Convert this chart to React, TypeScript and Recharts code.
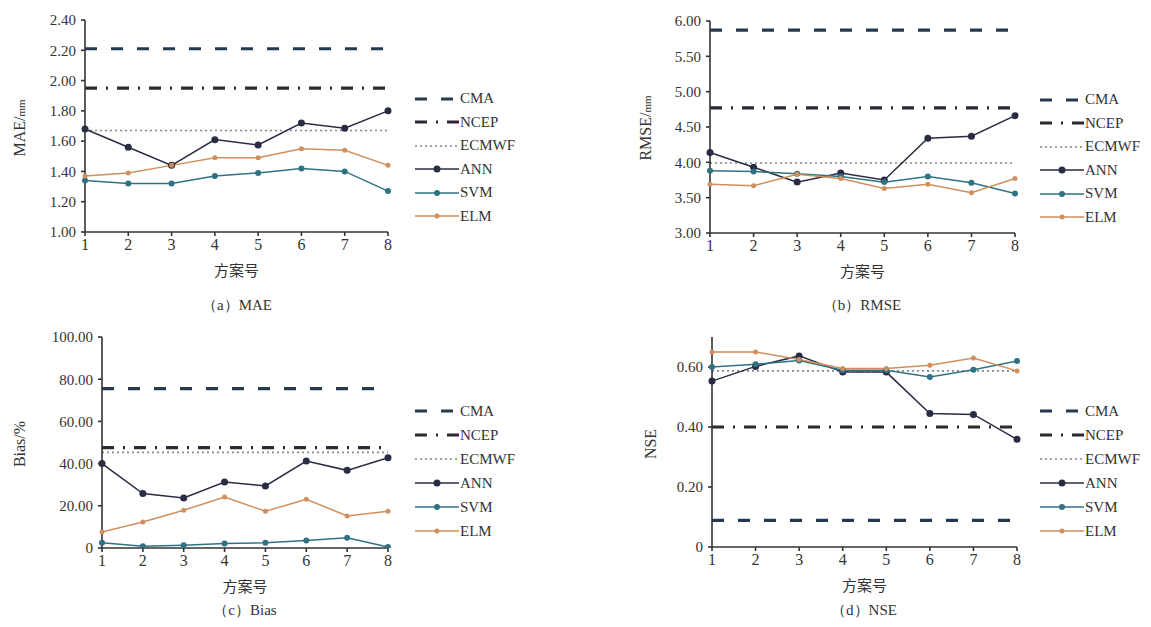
import React from 'react';
import { LineChart, Line, XAxis, YAxis, Legend } from 'recharts';

const schemes = [1, 2, 3, 4, 5, 6, 7, 8];

// (a) MAE
const maeANN = [1.68, 1.56, 1.44, 1.61, 1.575, 1.72, 1.685, 1.8];
const maeSVM = [1.34, 1.32, 1.32, 1.37, 1.39, 1.42, 1.4, 1.27];
const maeELM = [1.37, 1.39, 1.44, 1.49, 1.49, 1.55, 1.54, 1.44];
const maeRef = [2.21, 1.95, 1.67]; // CMA, NCEP, ECMWF
const maeTicks = [1.0, 1.2, 1.4, 1.6, 1.8, 2.0, 2.2, 2.4];

// (b) RMSE
const rmseANN = [4.14, 3.93, 3.72, 3.85, 3.75, 4.34, 4.37, 4.66];
const rmseSVM = [3.88, 3.87, 3.84, 3.8, 3.72, 3.8, 3.71, 3.56];
const rmseELM = [3.69, 3.67, 3.83, 3.77, 3.63, 3.69, 3.57, 3.77];
const rmseRef = [5.87, 4.77, 3.99];
const rmseTicks = [3.0, 3.5, 4.0, 4.5, 5.0, 5.5, 6.0];

// (c) Bias
const biasANN = [40.0, 25.8, 23.7, 31.3, 29.4, 41.2, 36.8, 42.8];
const biasSVM = [2.5, 0.8, 1.3, 2.1, 2.5, 3.6, 4.9, 0.5];
const biasELM = [7.6, 12.3, 17.9, 24.2, 17.4, 23.1, 15.2, 17.4];
const biasRef = [75.5, 47.6, 45.3];
const biasTicks = [0, 20, 40, 60, 80, 100];

// (d) NSE
const nseANN = [0.553, 0.602, 0.637, 0.583, 0.583, 0.445, 0.442, 0.359];
const nseSVM = [0.6, 0.609, 0.622, 0.589, 0.589, 0.567, 0.591, 0.62];
const nseELM = [0.65, 0.65, 0.625, 0.595, 0.595, 0.606, 0.63, 0.587];
const nseRef = [0.089, 0.4, 0.587];
const nseTicks = [0, 0.2, 0.4, 0.6];

const seriesNames = ['CMA', 'NCEP', 'ECMWF', 'ANN', 'SVM', 'ELM'];

const build = (ann: number[], svm: number[], elm: number[], ref: number[]) =>
  schemes.map((x, i) => ({
    x,
    CMA: ref[0],
    NCEP: ref[1],
    ECMWF: ref[2],
    ANN: ann[i],
    SVM: svm[i],
    ELM: elm[i],
  }));

const STYLE: Record<string, { color: string; width: number; dash?: string; r?: number }> = {
  CMA: { color: '#253a50', width: 3.2, dash: '12 14' },
  NCEP: { color: '#2a2a33', width: 3.2, dash: '12 9 2 9' },
  ECMWF: { color: '#80898a', width: 1.6, dash: '2 3' },
  ANN: { color: '#2a2c44', width: 1.5, r: 3.5 },
  SVM: { color: '#2f7282', width: 1.5, r: 3 },
  ELM: { color: '#d08f5c', width: 1.5, r: 2.5 },
};

const serif = '"Liberation Serif", "Times New Roman", serif';
const cjk = '"Noto Sans CJK SC", sans-serif';

const LegendContent = (rowH: number) => (props: any) => {
  const payload = [...(props.payload || [])].sort(
    (a: any, b: any) => seriesNames.indexOf(a.value) - seriesNames.indexOf(b.value)
  );
  return (
    <div style={{ fontFamily: serif, fontSize: 15, color: '#333' }}>
      {payload.map((p: any) => {
        const s = STYLE[p.value];
        return (
          <div key={p.value} style={{ display: 'flex', alignItems: 'center', height: rowH }}>
            <svg width={44} height={10} style={{ display: 'block' }}>
              <line x1={0} y1={5} x2={44} y2={5} stroke={s.color} strokeWidth={s.width} strokeDasharray={s.dash} />
              {s.r ? <circle cx={22} cy={5} r={s.r} fill={s.color} /> : null}
            </svg>
            <span style={{ marginLeft: 1 }}>{p.value}</span>
          </div>
        );
      })}
    </div>
  );
};

type PanelProps = {
  data: any[];
  left: number;
  top: number;
  width: number;
  height: number;
  margin: { top: number; right: number; bottom: number; left: number };
  yWidth: number;
  domain: [number, number];
  ticks: number[];
  fmt: (v: number) => string;
  legendLeft: number;
  legendTop: number;
  rowH: number;
};

const Panel = (p: PanelProps) => (
  <div style={{ position: 'absolute', left: p.left, top: p.top }}>
    <LineChart width={p.width} height={p.height} data={p.data} margin={p.margin}>
      <XAxis
        type="number"
        dataKey="x"
        domain={[1, 8]}
        ticks={schemes}
        allowDecimals={false}
        stroke="#333"
        strokeWidth={1.6}
        tickSize={4}
        tickMargin={3}
        height={50}
        tick={{ fill: '#333', fontFamily: serif, fontSize: 16 }}
        label={{ value: '方案号', position: 'insideBottom', offset: 6, style: { fill: '#333', fontFamily: cjk, fontSize: 15 } }}
      />
      <YAxis
        type="number"
        domain={p.domain}
        ticks={p.ticks}
        width={p.yWidth}
        stroke="#333"
        strokeWidth={1.6}
        tickSize={4}
        tickMargin={5}
        tickFormatter={p.fmt}
        tick={{ fill: '#333', fontFamily: serif, fontSize: 15 }}
        allowDataOverflow
      />
      <Legend
        layout="vertical"
        align="center"
        verticalAlign="middle"
        wrapperStyle={{ left: p.legendLeft, top: p.legendTop, width: 100 }}
        content={LegendContent(p.rowH)}
      />
      {seriesNames.map((k) => {
        const s = STYLE[k];
        return (
          <Line
            key={k}
            dataKey={k}
            name={k}
            stroke={s.color}
            strokeWidth={s.width}
            strokeDasharray={s.dash}
            dot={s.r ? { r: s.r, fill: s.color, stroke: s.color, strokeWidth: 0 } : false}
            activeDot={false}
            isAnimationActive={false}
            type="linear"
          />
        );
      })}
    </LineChart>
  </div>
);

const f2 = (v: number) => v.toFixed(2);
const f2z = (v: number) => (v === 0 ? '0' : v.toFixed(2));

const RotLabel = ({ x, y, children }: { x: number; y: number; children: React.ReactNode }) => (
  <div
    style={{
      position: 'absolute',
      left: x,
      top: y,
      transform: 'translate(-50%, -50%) rotate(-90deg)',
      whiteSpace: 'nowrap',
      fontFamily: serif,
      fontSize: 16,
      color: '#333',
    }}
  >
    {children}
  </div>
);

const Caption = ({ x, y, children }: { x: number; y: number; children: React.ReactNode }) => (
  <div
    style={{
      position: 'absolute',
      left: x,
      top: y,
      transform: 'translate(-50%, -50%)',
      whiteSpace: 'nowrap',
      fontFamily: serif,
      fontSize: 15,
      color: '#333',
    }}
  >
    {children}
  </div>
);

export default function App() {
  return (
    <div style={{ position: 'absolute', left: 0, top: 0, width: 1151, height: 627, overflow: 'hidden', background: '#fff' }}>
      <Panel
        data={build(maeANN, maeSVM, maeELM, maeRef)}
        left={0}
        top={0}
        width={575}
        height={315}
        margin={{ top: 20, right: 187, bottom: 33, left: 15 }}
        yWidth={70}
        domain={[1.0, 2.4]}
        ticks={maeTicks}
        fmt={f2}
        legendLeft={415}
        legendTop={87}
        rowH={23.5}
      />
      <Panel
        data={build(rmseANN, rmseSVM, rmseELM, rmseRef)}
        left={575}
        top={0}
        width={575}
        height={315}
        margin={{ top: 21, right: 135, bottom: 32, left: 65 }}
        yWidth={70}
        domain={[3.0, 6.0]}
        ticks={rmseTicks}
        fmt={f2}
        legendLeft={465}
        legendTop={88}
        rowH={23.5}
      />
      <Panel
        data={build(biasANN, biasSVM, biasELM, biasRef)}
        left={0}
        top={315}
        width={575}
        height={312}
        margin={{ top: 22, right: 187, bottom: 29, left: 22 }}
        yWidth={80}
        domain={[0, 100]}
        ticks={biasTicks}
        fmt={f2z}
        legendLeft={415}
        legendTop={84}
        rowH={24}
      />
      <Panel
        data={build(nseANN, nseSVM, nseELM, nseRef)}
        left={575}
        top={315}
        width={575}
        height={312}
        margin={{ top: 22, right: 133, bottom: 30, left: 67 }}
        yWidth={70}
        domain={[0, 0.7]}
        ticks={nseTicks}
        fmt={f2z}
        legendLeft={465}
        legendTop={84}
        rowH={24}
      />
      <RotLabel x={20} y={128}>
        MAE/<span style={{ fontSize: 11 }}>mm</span>
      </RotLabel>
      <RotLabel x={646} y={128}>
        RMSE/<span style={{ fontSize: 11 }}>mm</span>
      </RotLabel>
      <RotLabel x={20} y={444}>
        Bias/%
      </RotLabel>
      <RotLabel x={651} y={444}>
        NSE
      </RotLabel>
      <Caption x={237} y={305}>（a）MAE</Caption>
      <Caption x={862} y={305}>（b）RMSE</Caption>
      <Caption x={245} y={610}>（c）Bias</Caption>
      <Caption x={864} y={610}>（d）NSE</Caption>
    </div>
  );
}
